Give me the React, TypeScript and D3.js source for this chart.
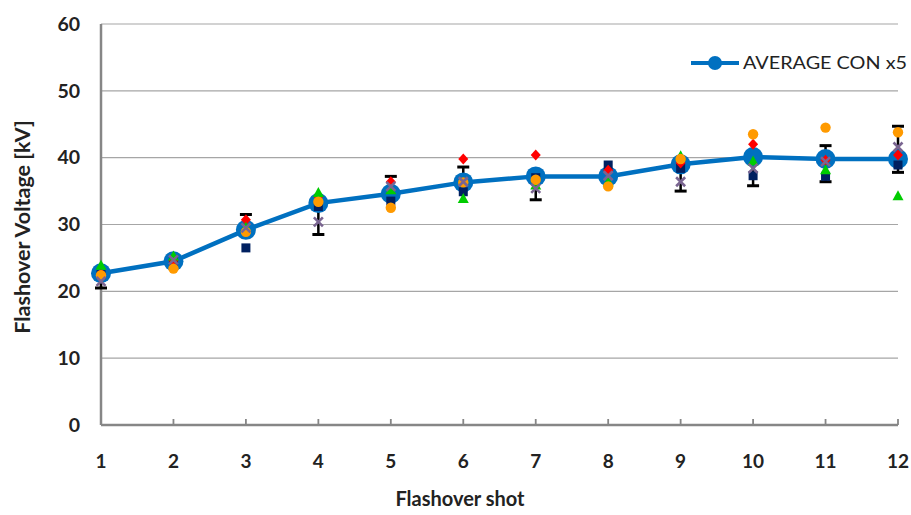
import React from 'react';
import * as d3 from 'd3';

const shots = [1, 2, 3, 4, 5, 6, 7, 8, 9, 10, 11, 12];
const average = [22.7, 24.5, 29.2, 33.2, 34.6, 36.3, 37.2, 37.2, 39.0, 40.1, 39.8, 39.8];
const errHigh: (number | null)[] = [null, 25.4, 31.5, null, 37.2, 38.6, null, null, null, null, 41.8, 44.7];
const errLow: (number | null)[] = [20.5, null, null, 28.5, null, null, 33.7, null, 35.0, 35.8, 36.4, 37.8];

const squareSeries = [22.5, 24.5, 26.5, 32.7, 33.5, 34.9, 37.0, 38.9, 38.4, 37.3, 37.2, 38.9];
const diamondSeries = [22.6, 24.6, 30.7, 34.2, 36.4, 39.8, 40.4, 38.1, 39.2, 42.0, 39.6, 40.4];
const triangleSeries = [23.9, 25.3, 29.6, 34.8, 35.2, 33.9, 35.9, 36.4, 40.3, 39.5, 38.2, 34.3];
const crossSeries = [21.5, 24.7, 29.5, 30.4, 35.7, 36.4, 35.4, 37.3, 36.4, 38.4, 39.4, 41.6];
const circleSeries = [22.4, 23.4, 28.9, 33.4, 32.5, 36.3, 36.7, 35.7, 39.8, 43.5, 44.5, 43.8];

const yTicks = [0, 10, 20, 30, 40, 50, 60];

const W = 911;
const H = 515;
const FONT = 'Lato, "Open Sans", sans-serif';
const BLUE = '#0070C0';

export default function App() {
  const x = d3.scaleLinear().domain([1, 12]).range([101, 898]);
  const y = d3.scaleLinear().domain([0, 60]).range([425, 24]);

  const line = d3.line<number>()
    .x((_, i) => x(shots[i]))
    .y(d => y(d));

  const capW = 6;

  return (
    <svg width={W} height={H} style={{ position: 'absolute', left: 0, top: 0, background: '#fff' }}>
      {/* gridlines */}
      {yTicks.filter(t => t > 0).map(t => (
        <line key={t} x1={x(1)} x2={x(12)} y1={y(t)} y2={y(t)} stroke="#A6A6A6" strokeWidth={1.2} />
      ))}

      {/* axes */}
      <line x1={x(1)} x2={x(1)} y1={y(60)} y2={y(0)} stroke="#868686" strokeWidth={2.5} />
      <line x1={x(1)} x2={x(12)} y1={y(0)} y2={y(0)} stroke="#868686" strokeWidth={2.5} />
      {shots.slice(1).map(s => (
        <line key={s} x1={x(s)} x2={x(s)} y1={y(0)} y2={y(0) - 6} stroke="#868686" strokeWidth={1.8} />
      ))}

      {/* y tick labels */}
      {yTicks.map(t => (
        <text key={t} x={80} y={y(t)} dy="0.35em" textAnchor="end" fontFamily={FONT} fontWeight={700} fontSize={19.5} fill="#222">
          {t}
        </text>
      ))}
      {/* x tick labels */}
      {shots.map(s => (
        <text key={s} x={x(s)} y={461} dy="0.35em" textAnchor="middle" fontFamily={FONT} fontWeight={700} fontSize={19} fill="#222">
          {s}
        </text>
      ))}

      {/* axis titles */}
      <text x={0} y={0} transform={`translate(30,227) rotate(-90)`} textAnchor="middle" fontFamily={FONT} fontWeight={700} fontSize={21.5} fill="#222">
        Flashover Voltage [kV]
      </text>
      <text x={460} y={499} dy="0.35em" textAnchor="middle" fontFamily={FONT} fontWeight={700} fontSize={20} fill="#222">
        Flashover shot
      </text>

      {/* error bars */}
      {shots.map((s, i) => {
        const hi = errHigh[i];
        const lo = errLow[i];
        if (hi == null && lo == null) return null;
        const top = hi ?? average[i];
        const bot = lo ?? average[i];
        const cx = x(s);
        return (
          <g key={s} stroke="#000">
            <line x1={cx} x2={cx} y1={y(top)} y2={y(bot)} strokeWidth={2.5} />
            {hi != null && <line x1={cx - capW} x2={cx + capW} y1={y(hi)} y2={y(hi)} strokeWidth={3} />}
            {lo != null && <line x1={cx - capW} x2={cx + capW} y1={y(lo)} y2={y(lo)} strokeWidth={3} />}
          </g>
        );
      })}

      {/* average line */}
      <path d={line(average) || ''} fill="none" stroke={BLUE} strokeWidth={4.5} />
      {average.map((v, i) => (
        <circle key={i} cx={x(shots[i])} cy={y(v)} r={10} fill={BLUE} />
      ))}

      {/* individual shots */}
      {squareSeries.map((v, i) => (
        <rect key={i} x={x(shots[i]) - 4.5} y={y(v) - 4.5} width={9} height={9} fill="#002060" />
      ))}
      {diamondSeries.map((v, i) => {
        const cx = x(shots[i]);
        const cy = y(v);
        return <path key={i} d={`M${cx},${cy - 5.5}L${cx + 5},${cy}L${cx},${cy + 5.5}L${cx - 5},${cy}Z`} fill="#FF0000" />;
      })}
      {triangleSeries.map((v, i) => {
        const cx = x(shots[i]);
        const cy = y(v);
        return <path key={i} d={`M${cx},${cy - 5.5}L${cx + 5.5},${cy + 4.5}L${cx - 5.5},${cy + 4.5}Z`} fill="#00CC00" />;
      })}
      {circleSeries.map((v, i) => (
        <circle key={i} cx={x(shots[i])} cy={y(v)} r={5.2} fill="#FF9A00" />
      ))}
      {crossSeries.map((v, i) => {
        const cx = x(shots[i]);
        const cy = y(v);
        const s = 4.5;
        return (
          <path key={i} d={`M${cx - s},${cy - s}L${cx + s},${cy + s}M${cx - s},${cy + s}L${cx + s},${cy - s}`} stroke="#7A6591" strokeWidth={2.6} fill="none" />
        );
      })}

      {/* legend */}
      <line x1={691} x2={739} y1={63} y2={63} stroke={BLUE} strokeWidth={4} />
      <circle cx={715} cy={63} r={7} fill={BLUE} />
      <text x={743} y={63} dy="0.35em" fontFamily={FONT} fontSize={17} fill="#222" textLength={164} lengthAdjust="spacingAndGlyphs">
        AVERAGE CON x5
      </text>
    </svg>
  );
}
